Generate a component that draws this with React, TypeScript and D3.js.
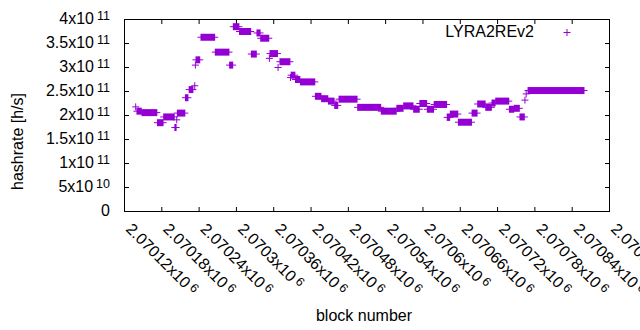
import { scaleLinear } from "d3";
import type { ReactElement } from "react";

// hashrate held constant over runs of blocks (start, end inclusive)
const blockStart = [
  2070138, 2070140, 2070148, 2070173, 2070183, 2070201, 2070204, 2070205, 2070218, 2070224,
  2070233, 2070234, 2070235, 2070243, 2070266, 2070289, 2070295, 2070305, 2070324, 2070333,
  2070339, 2070353, 2070354, 2070367, 2070370, 2070387, 2070388, 2070395, 2070403, 2070427,
  2070437, 2070448, 2070458, 2070465, 2070495, 2070533, 2070558, 2070569, 2070585, 2070595,
  2070607, 2070618, 2070639, 2070644, 2070657, 2070679, 2070688, 2070701, 2070711, 2070717,
  2070739, 2070747, 2070756, 2070764, 2070766, 2070769,
];
const blockEnd = [
  2070138, 2070147, 2070172, 2070182, 2070200, 2070203, 2070204, 2070217, 2070222, 2070230,
  2070233, 2070234, 2070241, 2070265, 2070288, 2070294, 2070304, 2070323, 2070332, 2070338,
  2070352, 2070353, 2070366, 2070367, 2070386, 2070387, 2070394, 2070402, 2070426, 2070436,
  2070447, 2070457, 2070463, 2070494, 2070532, 2070557, 2070568, 2070584, 2070594, 2070606,
  2070617, 2070638, 2070643, 2070656, 2070678, 2070687, 2070700, 2070710, 2070716, 2070738,
  2070746, 2070755, 2070763, 2070764, 2070766, 2070859,
];
// units of 1e11 h/s
const hashrate = [
  2.18, 2.09, 2.06, 1.85, 1.97, 1.75, 1.91, 2.05, 2.37, 2.54,
  2.62, 3.05, 3.16, 3.63, 3.32, 3.05, 3.85, 3.75, 3.28, 3.72,
  3.61, 3.19, 3.29, 3.0, 3.12, 2.79, 2.84, 2.75, 2.70, 2.40,
  2.35, 2.30, 2.21, 2.34, 2.17, 2.09, 2.15, 2.20, 2.13, 2.25,
  2.13, 2.23, 1.96, 2.03, 1.86, 2.05, 2.24, 2.17, 2.26, 2.30,
  2.13, 2.15, 1.97, 2.32, 2.45, 2.52,
];

const xTickMantissa = [
  "2.07012", "2.07018", "2.07024", "2.0703", "2.07036", "2.07042", "2.07048",
  "2.07054", "2.0706", "2.07066", "2.07072", "2.07078", "2.07084", "2.0709",
];
const xTickValues = [
  2070120, 2070180, 2070240, 2070300, 2070360, 2070420, 2070480,
  2070540, 2070600, 2070660, 2070720, 2070780, 2070840, 2070900,
];
const yTickValues = [0, 5e10, 1e11, 1.5e11, 2e11, 2.5e11, 3e11, 3.5e11, 4e11];
const yTickMantissa = ["0", "5", "1", "1.5", "2", "2.5", "3", "3.5", "4"];
const yTickExponent = ["", "10", "11", "11", "11", "11", "11", "11", "11"];

const seriesName = "LYRA2REv2";

const width = 640;
const height = 330;
const plot = { left: 124.5, right: 609.5, top: 19.5, bottom: 211.5 } as const;
const color = "#9400d3";
const font = "'Liberation Sans', Arial, sans-serif";
const tick = 4.5;
const arm = 3.5;

const App = (): ReactElement => {
  const xScale = scaleLinear().domain([2070120, 2070900]).range([plot.left, plot.right]);
  const yScale = scaleLinear().domain([0, 4e11]).range([plot.bottom, plot.top]);

  return (
    <svg
      width={width}
      height={height}
      viewBox={`0 0 ${width} ${height}`}
      style={{ position: "absolute", left: 0, top: 0, background: "#fff" }}
      fontFamily={font}
    >
      <rect x={0} y={0} width={width} height={height} fill="#fff" />

      {/* y ticks, mirrored on the right */}
      {yTickValues.map((v, i) => {
        const y = yScale(v);
        return (
          <g key={`y-${v}`}>
            {i > 0 && i < yTickValues.length - 1 && (
              <>
                <line x1={plot.left} x2={plot.left + tick} y1={y} y2={y} stroke="#000" />
                <line x1={plot.right - tick} x2={plot.right} y1={y} y2={y} stroke="#000" />
              </>
            )}
            <text x={110} y={y + 4} textAnchor="end" fontSize={16} fill="#000">
              {yTickExponent[i] === "" ? (
                yTickMantissa[i]
              ) : (
                <>
                  {`${yTickMantissa[i]}x10`}
                  <tspan dx={3} dy={-4} fontSize={12.5}>
                    {yTickExponent[i]}
                  </tspan>
                </>
              )}
            </text>
          </g>
        );
      })}

      {/* x ticks, mirrored on top */}
      {xTickValues.map((v, i) => {
        const x = xScale(v);
        return (
          <g key={`x-${v}`}>
            {i > 0 && i < xTickValues.length - 1 && (
              <>
                <line x1={x} x2={x} y1={plot.bottom} y2={plot.bottom - tick} stroke="#000" />
                <line x1={x} x2={x} y1={plot.top} y2={plot.top + tick} stroke="#000" />
              </>
            )}
            <text transform={`translate(${x + 0.5},230) rotate(45)`} fontSize={16} fill="#000">
              {`${xTickMantissa[i]}x10`}
              <tspan dx={3} dy={-4} fontSize={12.5}>
                6
              </tspan>
            </text>
          </g>
        );
      })}

      <rect
        x={plot.left}
        y={plot.top}
        width={plot.right - plot.left}
        height={plot.bottom - plot.top}
        fill="none"
        stroke="#000"
      />

      {/* points: a plus per block, runs drawn as merged bars */}
      <g fill={color} stroke={color}>
        {blockStart.map((b, i) => {
          const x0 = xScale(b);
          const x1 = xScale(blockEnd[i]);
          const y = yScale(hashrate[i] * 1e11);
          return (
            <g key={`p-${b}`}>
              <rect x={x0 - 0.5} y={y - arm} width={x1 - x0 + 1} height={arm * 2} stroke="none" />
              <line x1={x0 - arm} x2={x1 + arm} y1={y} y2={y} strokeWidth={1} />
            </g>
          );
        })}
      </g>

      {/* legend */}
      <text x={534} y={37.3} textAnchor="end" fontSize={16} fill="#000">
        {seriesName}
      </text>
      <g stroke={color}>
        <line x1={567 - arm} x2={567 + arm} y1={32.5} y2={32.5} />
        <line x1={567} x2={567} y1={32.5 - arm} y2={32.5 + arm} />
      </g>

      <text x={364} y={321} textAnchor="middle" fontSize={16} fill="#000">
        block number
      </text>
      <text transform="translate(23,141.5) rotate(-90)" textAnchor="middle" fontSize={16} fill="#000">
        hashrate [h/s]
      </text>
    </svg>
  );
};

export default App;
